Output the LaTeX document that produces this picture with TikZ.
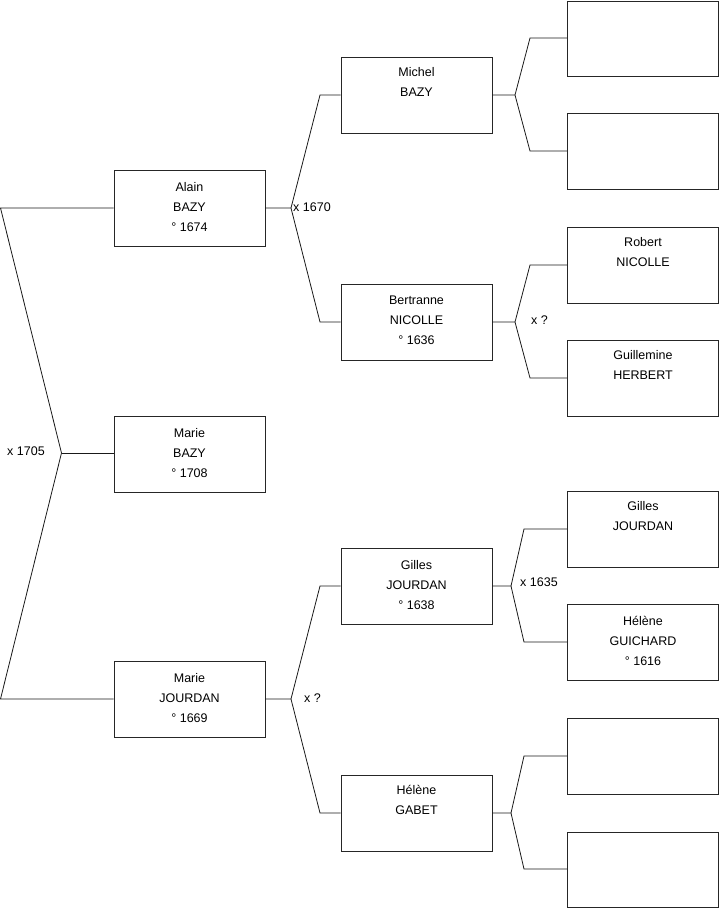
\documentclass[tikz,border=0pt]{standalone}
\usepackage{fontspec}
\setmainfont{Liberation Sans}
\begin{document}
\begin{tikzpicture}[x=1pt,y=-1pt,
  person/.style={draw=black!85,line width=0.8pt,minimum width=151pt,minimum height=76pt,inner sep=0pt,align=center,font=\fontsize{12.5}{20}\selectfont},
  link/.style={draw=black!90,line width=0.8pt},
  lbl/.style={font=\fontsize{12.5}{15}\selectfont,inner sep=0pt,anchor=west}]
\useasboundingbox (0,0) rectangle (719,908);
% generation 1
\node[person] (alain) at (189.5,208) {Alain\\BAZY\\° 1674\rule[-3pt]{0pt}{1pt}};
\node[person] (marieb) at (189.5,454) {Marie\\BAZY\\° 1708\rule[-3pt]{0pt}{1pt}};
\node[person] (mariej) at (189.5,699) {Marie\\JOURDAN\\° 1669\rule[-3pt]{0pt}{1pt}};
% generation 2
\node[person] (michel) at (416.5,95) {Michel\\BAZY\\\strut};
\node[person] (bertranne) at (416.5,322) {Bertranne\\NICOLLE\\° 1636\rule[-3pt]{0pt}{1pt}};
\node[person] (gilles) at (416.5,586) {Gilles\\JOURDAN\\° 1638\rule[-3pt]{0pt}{1pt}};
\node[person] (gabet) at (416.5,813) {Hélène\\GABET\\\strut};
% generation 3
\node[person,minimum height=75pt] (r1) at (643,38.5) {};
\node[person] (r2) at (643,151) {};
\node[person] (robert) at (643,265) {Robert\\NICOLLE\\\strut};
\node[person] (guillemine) at (643,378) {Guillemine\\HERBERT\\\strut};
\node[person] (gillesp) at (643,529) {Gilles\\JOURDAN\\\strut};
\node[person] (guichard) at (643,642) {Hélène\\GUICHARD\\° 1616\rule[-3pt]{0pt}{1pt}};
\node[person] (r7) at (643,756) {};
\node[person,minimum height=75pt] (r8) at (643,869.5) {};
% junction coordinates
\coordinate (L1) at (0.5,208);
\coordinate (L2) at (61.5,453);
\coordinate (L3) at (0.5,699);
\coordinate (jA) at (291,208);
\coordinate (jA1) at (320,95);
\coordinate (jA2) at (320,322);
\coordinate (jJ) at (291,699);
\coordinate (jJ1) at (320,586);
\coordinate (jJ2) at (320,813);
\coordinate (jM) at (515,95);
\coordinate (jM1) at (530,38);
\coordinate (jM2) at (530,151);
\coordinate (jB) at (515,322);
\coordinate (jB1) at (530,265);
\coordinate (jB2) at (530,378);
\coordinate (jG) at (511,586);
\coordinate (jG1) at (524,529);
\coordinate (jG2) at (524,642);
\coordinate (jH) at (511,813);
\coordinate (jH1) at (524,756);
\coordinate (jH2) at (524,869);
% connectors
\draw[link] (alain.west) -- (L1) -- (L2) -- (L3) -- (mariej.west);
\draw[link] (L2) -- (L2-|marieb.west);
\draw[link] (alain.east) -- (jA) -- (jA1) -- (jA1-|michel.west);
\draw[link] (jA) -- (jA2) -- (jA2-|bertranne.west);
\draw[link] (mariej.east) -- (jJ) -- (jJ1) -- (jJ1-|gilles.west);
\draw[link] (jJ) -- (jJ2) -- (jJ2-|gabet.west);
\draw[link] (michel.east) -- (jM) -- (jM1) -- (jM1-|r1.west);
\draw[link] (jM) -- (jM2) -- (jM2-|r2.west);
\draw[link] (bertranne.east) -- (jB) -- (jB1) -- (jB1-|robert.west);
\draw[link] (jB) -- (jB2) -- (jB2-|guillemine.west);
\draw[link] (gilles.east) -- (jG) -- (jG1) -- (jG1-|gillesp.west);
\draw[link] (jG) -- (jG2) -- (jG2-|guichard.west);
\draw[link] (gabet.east) -- (jH) -- (jH1) -- (jH1-|r7.west);
\draw[link] (jH) -- (jH2) -- (jH2-|r8.west);
% marriage labels
\node[lbl] (m1705) at (7,451) {x 1705};
\node[lbl] (m1670) at (293,207) {x 1670};
\node[lbl] (mq1) at (531,320) {x ?};
\node[lbl] (mq2) at (304,698) {x ?};
\node[lbl] (m1635) at (520,582) {x 1635};
\end{tikzpicture}
\end{document}
